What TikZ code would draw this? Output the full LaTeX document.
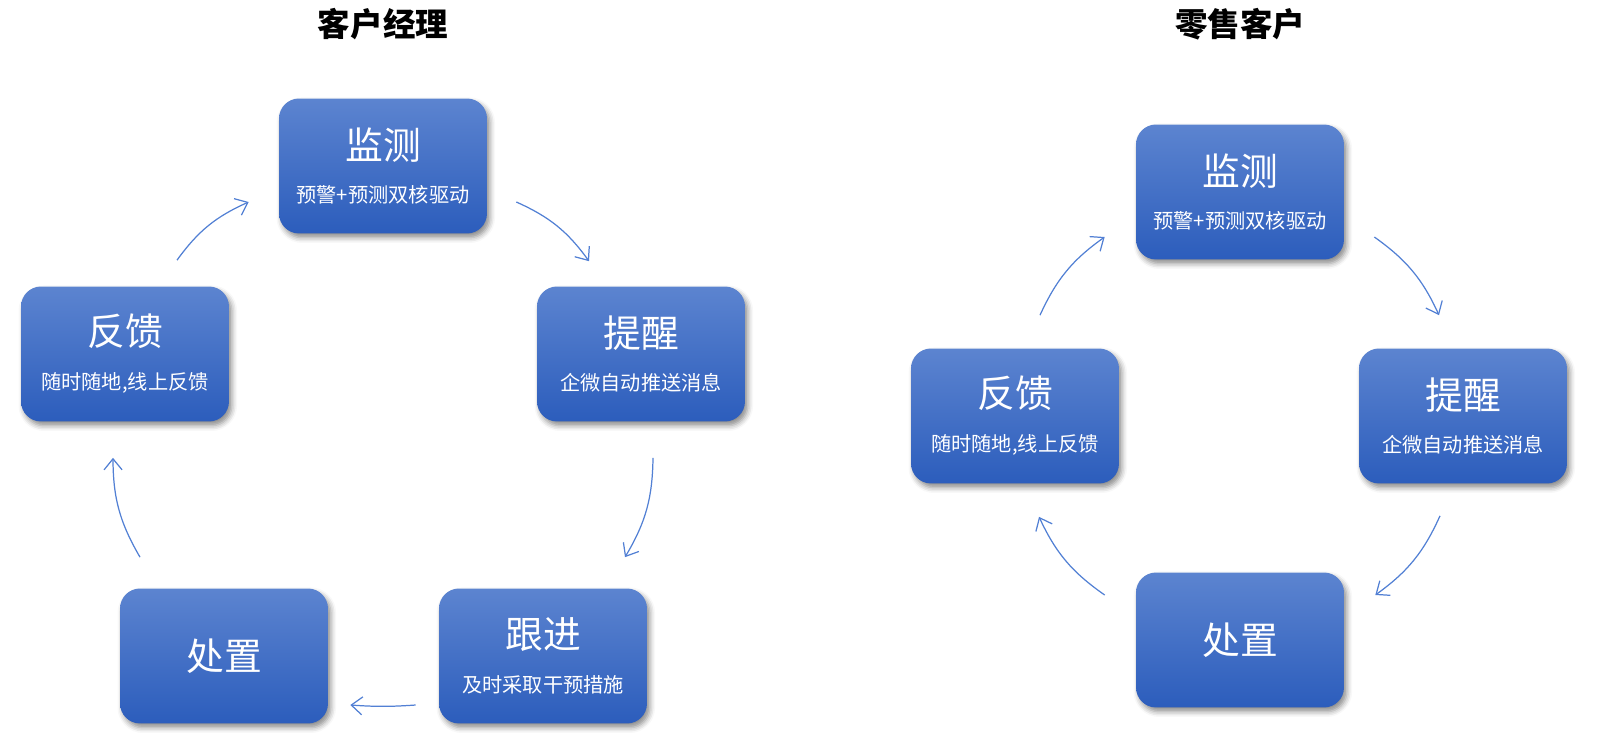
\documentclass[tikz,border=0pt]{standalone}
\usepackage{fontspec}
\setmainfont{Noto Sans CJK SC}
\usetikzlibrary{arrows.meta,shadows.blur}
\definecolor{boxtop}{RGB}{92,132,208}
\definecolor{boxbot}{RGB}{44,93,188}
\definecolor{cycblue}{RGB}{82,128,212}
\newcommand{\subtxt}{\fontsize{11.5}{24}\selectfont}
\tikzset{
  stepbox/.style={rectangle, rounded corners=0.4cm, minimum width=4.16cm,
                  minimum height=2.7cm, top color=boxtop, bottom color=boxbot,
                  draw=none, text=white, align=center, inner sep=0pt,
                  font=\fontsize{21.5}{25}\selectfont,
                  blur shadow={shadow xshift=1.6pt, shadow yshift=-2.4pt,
                               shadow blur radius=3pt, shadow opacity=45}},
  heading/.style={font=\fontsize{18.5}{21}\selectfont\bfseries},
  cyc/.style={-{Straight Barb[length=2.2mm, width=3.6mm]}, draw=cycblue,
              line width=0.7pt},
}

\begin{document}
\begin{tikzpicture}[x=0.02cm, y=-0.02cm]
\useasboundingbox (0,0) rectangle (1600,734);

% ================= left: account manager =================
\node[heading] (head1) at (383,24) {客户经理};
\node[stepbox] (mon1) at (383,166) {监测\\\subtxt 预警+预测双核驱动};
\node[stepbox] (rem1) at (641,354) {提醒\\\subtxt 企微自动推送消息};
\node[stepbox] (fol1) at (543,656) {跟进\\\subtxt 及时采取干预措施};
\node[stepbox] (dis1) at (224,656) {处置};
\node[stepbox] (fb1)  at (125,354) {反馈\\\subtxt 随时随地,线上反馈};

\draw[cyc] ([shift={(29,36)}]mon1.east) to[bend left=15] ([shift={(-52,-25)}]rem1.north);
\draw[cyc] ([shift={(12,36)}]rem1.south) to[bend left=15] ([shift={(82,-31)}]fol1.north);
\draw[cyc] ([shift={(-23,49)}]fol1.west) to[bend left=4] ([shift={(22,49)}]dis1.east);
\draw[cyc] ([shift={(-84,-31)}]dis1.north) to[bend left=15] ([shift={(-12,36)}]fb1.south);
\draw[cyc] ([shift={(52,-26)}]fb1.north) to[bend left=15] ([shift={(-30,36)}]mon1.west);

% ================= right: retail customer =================
\node[heading] (head2) at (1240,24) {零售客户};
\node[stepbox] (mon2) at (1240,192) {监测\\\subtxt 预警+预测双核驱动};
\node[stepbox] (rem2) at (1463,416) {提醒\\\subtxt 企微自动推送消息};
\node[stepbox] (dis2) at (1240,640) {处置};
\node[stepbox] (fb2)  at (1015,416) {反馈\\\subtxt 随时随地,线上反馈};

\draw[cyc] ([shift={(30,45)}]mon2.east) to[bend left=15] ([shift={(-24,-33)}]rem2.north);
\draw[cyc] ([shift={(-23,32)}]rem2.south) to[bend left=15] ([shift={(31,-45)}]dis2.east);
\draw[cyc] ([shift={(-31,-45)}]dis2.west) to[bend left=15] ([shift={(24,33)}]fb2.south);
\draw[cyc] ([shift={(25,-33)}]fb2.north) to[bend left=15] ([shift={(-31,45)}]mon2.west);

\end{tikzpicture}
\end{document}
